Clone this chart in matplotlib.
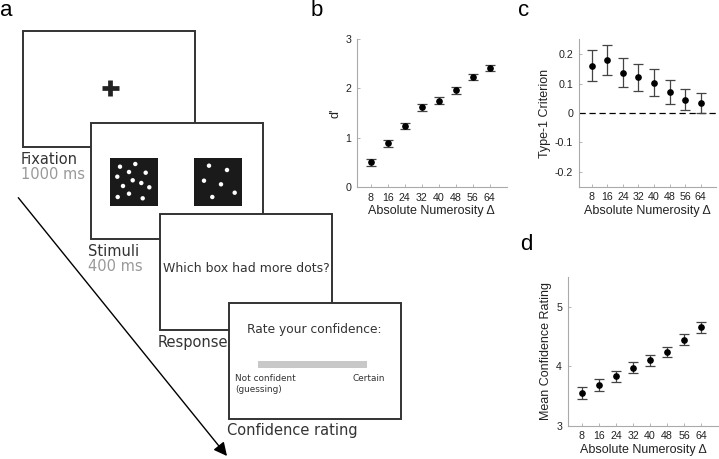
import matplotlib
matplotlib.use('Agg')
import matplotlib.pyplot as plt
from matplotlib.patches import Rectangle, Circle

delta = [8, 16, 24, 32, 40, 48, 56, 64]
dprime = [0.50, 0.885, 1.24, 1.615, 1.75, 1.965, 2.23, 2.41]
dprime_err = [0.07, 0.07, 0.065, 0.07, 0.07, 0.07, 0.065, 0.065]
criterion = [0.160, 0.179, 0.137, 0.121, 0.103, 0.071, 0.045, 0.034]
criterion_err = [0.053, 0.050, 0.049, 0.045, 0.045, 0.042, 0.035, 0.034]
confidence = [3.55, 3.68, 3.83, 3.98, 4.10, 4.24, 4.45, 4.66]
confidence_err = [0.10, 0.10, 0.09, 0.09, 0.09, 0.09, 0.09, 0.09]
xticks = [8, 16, 24, 32, 40, 48, 56, 64]

# schematic (panel a), in pixel coordinates of the figure
boxes = [(23, 31), (91, 123), (160, 214), (229, 303)]
box_w, box_h = 172, 116
dots_many = [(120, 166.7), (135.3, 164), (129, 172), (145.7, 172.7), (117.3, 176.7),
             (132.7, 180.3), (141.3, 183), (123, 186), (149.3, 187.3), (129, 193.7),
             (117.7, 197), (142.7, 198.3)]
dots_few = [(209, 165.7), (227, 170), (204, 180.7), (221, 184.3), (234.7, 192.7), (212.3, 197)]

W, H = 719, 459
fig = plt.figure(figsize=(W / 100, H / 100), dpi=100)

axa = fig.add_axes([0, 0, 1, 1])
axa.set_xlim(0, W)
axa.set_ylim(H, 0)
axa.axis('off')

edge = '#333333'
for k, (x0, y0) in enumerate(boxes):
    axa.add_patch(Rectangle((x0, y0), box_w, box_h, facecolor='white', edgecolor=edge,
                            lw=1.4, zorder=2 + k))

# fixation cross
axa.plot([101.7, 119], [88, 88], color='#222222', lw=3.4, solid_capstyle='butt', zorder=2.5)
axa.plot([110, 110], [80, 96], color='#222222', lw=3.4, solid_capstyle='butt', zorder=2.5)

# stimuli squares
for sx, dots in [(110, dots_many), (194, dots_few)]:
    axa.add_patch(Rectangle((sx, 158), 48, 48, facecolor='#1a1a1a', edgecolor='none', zorder=3.5))
    for (dx, dy) in dots:
        axa.add_patch(Circle((dx, dy), 2.2, facecolor='white', edgecolor='none', zorder=3.6))

tf = dict(family='DejaVu Sans', color='#333333')
axa.text(246, 269, 'Which box had more dots?', ha='center', va='center', fontsize=9, zorder=4.5, **tf)
axa.text(314, 330, 'Rate your confidence:', ha='center', va='center', fontsize=8.8, zorder=5.5, **tf)
axa.add_patch(Rectangle((258, 361), 109, 7, facecolor='#c8c8c8', edgecolor='none', zorder=5.5))
axa.text(235, 384, 'Not confident\n(guessing)', ha='left', va='center', fontsize=6.4,
         linespacing=1.2, zorder=5.5, **tf)
axa.text(385, 378.5, 'Certain', ha='right', va='center', fontsize=6.4, zorder=5.5, **tf)

lab = dict(family='DejaVu Sans', fontsize=10.5, ha='left', va='center')
axa.text(21, 159, 'Fixation', color='#333333', **lab)
axa.text(21, 174.5, '1000 ms', color='#999999', **lab)
axa.text(88, 252, 'Stimuli', color='#333333', **lab)
axa.text(88, 266.5, '400 ms', color='#999999', **lab)
axa.text(158, 342, 'Response', color='#333333', **lab)
axa.text(227, 431, 'Confidence rating', color='#333333', **lab)

axa.annotate('', xy=(227, 456), xytext=(18.3, 197.7),
             arrowprops=dict(arrowstyle='-|>', color='black', lw=1.0, mutation_scale=20,
                             shrinkA=0, shrinkB=0))

for letter, lx, ly in [('a', 0, 0.5), ('b', 311, 0.5), ('c', 518, 0.5), ('d', 520, 234)]:
    axa.text(lx, ly, letter, family='Liberation Sans', fontsize=16, ha='left', va='top')


def style_axis(ax, ylim, yticks, yticklabels, ylabel):
    ax.set_xlim(1.3, 72)
    ax.set_ylim(*ylim)
    ax.set_xticks(xticks)
    ax.set_yticks(yticks)
    ax.set_yticklabels(yticklabels)
    for s in ['top', 'right']:
        ax.spines[s].set_visible(False)
    for s in ['left', 'bottom']:
        ax.spines[s].set_color('#aaaaaa')
        ax.spines[s].set_linewidth(0.8)
    ax.tick_params(direction='in', length=2, width=0.6, color='#aaaaaa', labelsize=7.7,
                   labelcolor='#222222', pad=4)
    for t in ax.get_xticklabels() + ax.get_yticklabels():
        t.set_family('Liberation Sans')
    ax.set_xlabel('Absolute Numerosity \u0394', family='Liberation Sans', fontsize=9,
                  color='#222222', labelpad=2)
    ax.set_ylabel(ylabel, family='Liberation Sans', fontsize=9, color='#222222', labelpad=3)
    ax.patch.set_alpha(0)


eb = dict(fmt='o', color='black', ms=3.8, ecolor='#444444', elinewidth=0.9, capsize=3.3, capthick=0.9)

axb = fig.add_axes([356.7 / W, (H - 187) / H, 150 / W, 148 / H])
axb.errorbar(delta, dprime, yerr=dprime_err, **eb)
style_axis(axb, (0, 3), [0, 1, 2, 3], ['0', '1', '2', '3'], "d'")

axc = fig.add_axes([578.7 / W, (H - 186.7) / H, 137.6 / W, 147.4 / H])
axc.axhline(0, color='black', lw=0.9, ls=(0, (5, 3)))
axc.errorbar(delta, criterion, yerr=criterion_err, **eb)
style_axis(axc, (-0.25, 0.25), [-0.2, -0.1, 0, 0.1, 0.2], ['-0.2', '-0.1', '0', '0.1', '0.2'],
           'Type-1 Criterion')

axd = fig.add_axes([567.7 / W, (H - 425.7) / H, 150.6 / W, 148.4 / H])
axd.errorbar(delta, confidence, yerr=confidence_err, **eb)
style_axis(axd, (3, 5.5), [3, 4, 5], ['3', '4', '5'], 'Mean Confidence Rating')

fig.savefig('out.png', dpi=100)
